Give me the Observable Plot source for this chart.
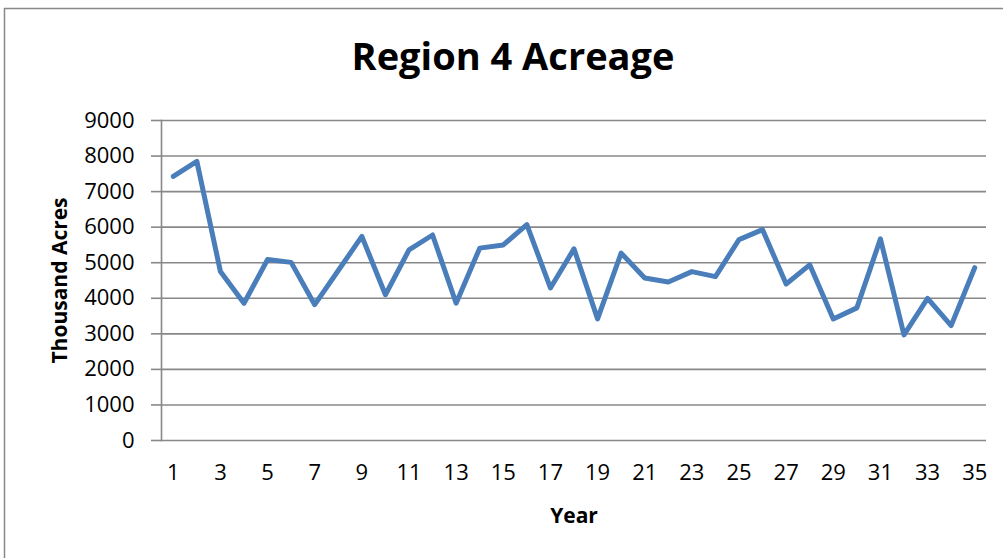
<!DOCTYPE html>
<html>
<head>
<meta charset="utf-8">
<script src="https://cdn.jsdelivr.net/npm/d3@7"></script>
<script src="https://cdn.jsdelivr.net/npm/@observablehq/plot@0.6"></script>
<style>
  html, body { margin: 0; padding: 0; background: #fff; }
  svg { display: block; }
</style>
</head>
<body>
<div id="chart"></div>
<script>
const years = [1,2,3,4,5,6,7,8,9,10,11,12,13,14,15,16,17,18,19,20,21,22,23,24,25,26,27,28,29,30,31,32,33,34,35];
const acres = [7430,7850,4750,3860,5090,5010,3820,4780,5740,4100,5360,5780,3860,5410,5500,6070,4290,5390,3420,5270,4570,4460,4750,4610,5650,5930,4400,4940,3420,3730,5670,2970,4000,3230,4860];
const xTickLabels = [1,3,5,7,9,11,13,15,17,19,21,23,25,27,29,31,33,35];
const yTickLabels = [0,1000,2000,3000,4000,5000,6000,7000,8000,9000];
const title = "Region 4 Acreage";
const xTitle = "Year";
const yTitle = "Thousand Acres";

const data = years.map((y, i) => ({year: y, acres: acres[i]}));

const gray = "#888888";
const font = "'Open Sans', sans-serif";
const chart = Plot.plot({
  width: 1003,
  height: 558,
  marginLeft: 161,
  marginRight: 17,
  marginTop: 120,
  marginBottom: 118,
  style: {fontFamily: font, fontSize: "22px", color: "#000", background: "#fff"},
  x: {type: "point", domain: years, padding: 0.5, round: false},
  y: {domain: [0, 9000]},
  marks: [
    Plot.gridY(yTickLabels, {stroke: gray, strokeOpacity: 1, strokeWidth: 1.6}),
    Plot.frame({anchor: "left", stroke: gray, strokeWidth: 1.6}),
    Plot.axisY({ticks: yTickLabels, tickFormat: d => String(d), tickSize: 10, tickPadding: 17, stroke: gray, strokeWidth: 1.6, strokeOpacity: 1, fill: "#000", label: null, fontSize: 22}),
    Plot.axisX({ticks: xTickLabels, tickFormat: d => String(d), tickSize: 0, tickPadding: 24, fill: "#000", label: null, fontSize: 22}),
    Plot.line(data, {x: "year", y: "acres", stroke: "#4A7EBB", strokeWidth: 5, strokeLinejoin: "round", strokeLinecap: "round"}),
    Plot.text([title], {frameAnchor: "top", dx: -61, dy: -63, fontSize: 38, fontWeight: "bold", fill: "#000", lineAnchor: "middle"}),
    Plot.text([xTitle], {frameAnchor: "bottom", dy: 76, fontSize: 21, fontWeight: "bold", fill: "#000", lineAnchor: "middle"}),
    Plot.text([yTitle], {frameAnchor: "left", dx: -101, rotate: -90, textAnchor: "middle", fontSize: 21, fontWeight: "bold", fill: "#000", lineAnchor: "middle"})
  ]
});

d3.select(chart).append("rect")
  .attr("x", 4.5).attr("y", 8.5)
  .attr("width", 1010).attr("height", 560)
  .attr("fill", "none").attr("stroke", gray).attr("stroke-width", 1.5);

document.getElementById("chart").appendChild(chart);
</script>
</body>
</html>
